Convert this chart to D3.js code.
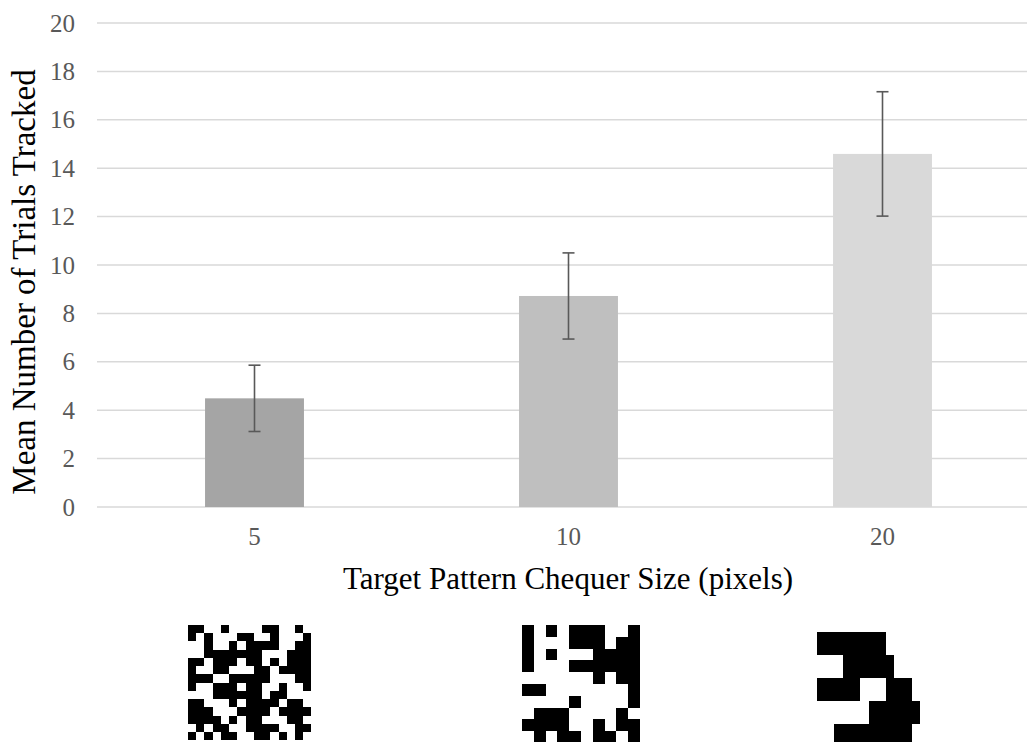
<!DOCTYPE html>
<html>
<head>
<meta charset="utf-8">
<script src="https://cdn.jsdelivr.net/npm/d3@7"></script>
<style>
    body { margin: 0; background: #fff; }
    svg { display: block; }
</style>
</head>
<body>
<div id="chart_div"></div>
<script>
// chart values
const chequer_sizes = ['5', '10', '20'];
const mean_tracked = [4.49, 8.72, 14.59];
const error_margin = [1.37, 1.78, 2.57];
const bar_colours = ['#a5a5a5', '#bfbfbf', '#d9d9d9'];
const y_ticks = [0, 2, 4, 6, 8, 10, 12, 14, 16, 18, 20];

// target pattern thumbnails, 1 = black cell
const pattern_5px = [
    '110010000110010',
    '101000110010001',
    '001001011110011',
    '001111111000111',
    '110111011010111',
    '100110001101111',
    '111001111100011',
    '100111011001001',
    '000111111011000',
    '110001011110110',
    '111000111101111',
    '111101011000110',
    '010110011110011',
    '101011001101010'
];
const pattern_10px = [
    '1010111001',
    '1000111011',
    '1010001111',
    '1000111111',
    '0000001011',
    '1100000001',
    '0000100001',
    '0111000010',
    '1111001011',
    '0101101101'
];
const pattern_20px = [
    '111111110000',
    '000111111000',
    '111110001110',
    '000000111111',
    '001111111110'
];

const width = 1027, height = 742;
const font = '"Liberation Serif", "DejaVu Serif", serif';

let svg = d3.select('#chart_div').append('svg')
    .attr('width', width)
    .attr('height', height);

let x = d3.scaleBand()
    .domain(chequer_sizes)
    .range([97.5, 1039.5])
    .paddingInner(0.685)
    .paddingOuter(0.3425);

let y = d3.scaleLinear()
    .domain([0, 20])
    .range([507, 23]);

// gridlines
svg.append('g')
    .selectAll('line')
    .data(y_ticks)
    .join('line')
    .attr('x1', 97)
    .attr('x2', width)
    .attr('y1', d => y(d))
    .attr('y2', d => y(d))
    .style('stroke', '#d9d9d9')
    .style('stroke-width', 1.5);

// y tick labels
svg.append('g')
    .selectAll('text')
    .data(y_ticks)
    .join('text')
    .attr('x', 75)
    .attr('y', d => y(d))
    .attr('dy', '0.34em')
    .style('text-anchor', 'end')
    .style('font-family', font)
    .style('font-size', 25 + 'px')
    .style('fill', '#595959')
    .text(d => d);

// bars
svg.append('g')
    .selectAll('rect')
    .data(chequer_sizes)
    .join('rect')
    .attr('x', d => x(d))
    .attr('width', x.bandwidth())
    .attr('y', (d, i) => y(mean_tracked[i]))
    .attr('height', (d, i) => y(0) - y(mean_tracked[i]))
    .style('fill', (d, i) => bar_colours[i]);

// error bars
let err_g = svg.append('g')
    .style('stroke', '#595959')
    .style('stroke-width', 1.6);

chequer_sizes.forEach(function (c, i) {
    let cx = x(c) + x.bandwidth() / 2;
    let top = y(mean_tracked[i] + error_margin[i]);
    let bottom = y(mean_tracked[i] - error_margin[i]);
    err_g.append('line').attr('x1', cx).attr('x2', cx).attr('y1', top).attr('y2', bottom);
    err_g.append('line').attr('x1', cx - 6).attr('x2', cx + 6).attr('y1', top).attr('y2', top);
    err_g.append('line').attr('x1', cx - 6).attr('x2', cx + 6).attr('y1', bottom).attr('y2', bottom);
});

// x tick labels
svg.append('g')
    .selectAll('text')
    .data(chequer_sizes)
    .join('text')
    .attr('x', d => x(d) + x.bandwidth() / 2)
    .attr('y', 545)
    .style('text-anchor', 'middle')
    .style('font-family', font)
    .style('font-size', 25 + 'px')
    .style('fill', '#595959')
    .text(d => d);

// axis titles
svg.append('text')
    .attr('x', 568)
    .attr('y', 589)
    .style('text-anchor', 'middle')
    .style('font-family', font)
    .style('font-size', 31 + 'px')
    .style('fill', '#000')
    .text('Target Pattern Chequer Size (pixels)');

svg.append('text')
    .attr('transform', 'translate(35,282) rotate(-90)')
    .style('text-anchor', 'middle')
    .style('font-family', font)
    .style('font-size', 33 + 'px')
    .style('fill', '#000')
    .text('Mean Number of Trials Tracked');

// pattern thumbnails under each category
const thumbs = [
    { rows: pattern_5px, left: 188, top: 625, cw: 8.23, ch: 8.23 },
    { rows: pattern_10px, left: 522, top: 625, cw: 11.8, ch: 11.8 },
    { rows: pattern_20px, left: 817, top: 632, cw: 8.6, ch: 23 }
];

thumbs.forEach(function (t) {
    let cells = [];
    t.rows.forEach(function (row, r) {
        row.split('').forEach(function (v, c) {
            if (v === '1') cells.push({ r: r, c: c });
        });
    });
    svg.append('g')
        .attr('shape-rendering', 'crispEdges')
        .selectAll('rect')
        .data(cells)
        .join('rect')
        .attr('x', d => Math.round(t.left + d.c * t.cw))
        .attr('y', d => Math.round(t.top + d.r * t.ch))
        .attr('width', d => Math.round(t.left + (d.c + 1) * t.cw) - Math.round(t.left + d.c * t.cw))
        .attr('height', d => Math.round(t.top + (d.r + 1) * t.ch) - Math.round(t.top + d.r * t.ch))
        .style('fill', '#000');
});
</script>
</body>
</html>
